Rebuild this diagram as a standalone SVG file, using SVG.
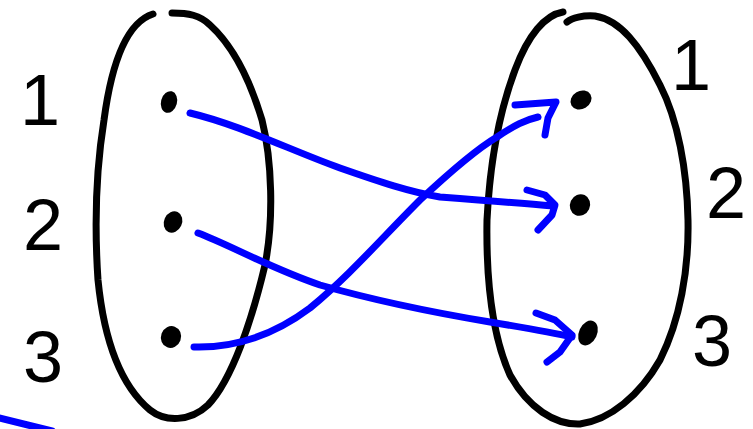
<svg xmlns="http://www.w3.org/2000/svg" width="753" height="429" viewBox="0 0 753 429">
<style>
.set{fill:none;stroke:#000;stroke-width:7;stroke-linecap:round;stroke-linejoin:round}
.dot{fill:#000}
.lbl{font-family:"Liberation Sans",Arial,sans-serif;font-size:72px;fill:#000;text-anchor:middle}
.edge{fill:none;stroke:#0000ff;stroke-width:7;stroke-linecap:round;stroke-linejoin:round}
</style>
<rect width="753" height="429" fill="#fff"/>
<g id="setA">
<path class="set" d="M153,14 C128,22 112,60 104,120 C96,170 94,220 98,280 C104,340 120,385 150,410 C165,422 190,422 208,405 C232,380 252,320 265,265 C274,220 272,160 262,120 C250,80 232,45 210,25 C200,15 188,13 172,13"/>
</g>
<g id="setB">
<path class="set" d="M563,12 C545,15 528,35 515,70 C500,110 490,160 487,220 C486,280 492,335 510,375 C528,408 555,425 580,424 C610,420 640,395 660,360 C680,320 689,270 688,220 C687,170 678,120 660,85 C640,45 620,20 595,16 C583,15 572,18 567,22"/>
</g>
<g id="a1">
<ellipse class="dot" cx="169" cy="102" rx="8" ry="11" transform="rotate(15 169 102)"/>
<text class="lbl" x="40" y="125">1</text>
</g>
<g id="a2">
<ellipse class="dot" cx="173" cy="222" rx="9" ry="11" transform="rotate(25 173 222)"/>
<text class="lbl" x="43" y="250">2</text>
</g>
<g id="a3">
<ellipse class="dot" cx="171" cy="337" rx="10" ry="11" transform="rotate(20 171 337)"/>
<text class="lbl" x="43" y="382">3</text>
</g>
<g id="b1">
<ellipse class="dot" cx="581" cy="100" rx="11" ry="9" transform="rotate(-30 581 100)"/>
<text class="lbl" x="691" y="90">1</text>
</g>
<g id="b2">
<ellipse class="dot" cx="580" cy="205" rx="10" ry="11" transform="rotate(25 580 205)"/>
<text class="lbl" x="726" y="218">2</text>
</g>
<g id="b3">
<ellipse class="dot" cx="588" cy="333" rx="9" ry="13" transform="rotate(25 588 333)"/>
<text class="lbl" x="712" y="366">3</text>
</g>
<g id="connectors">
<path class="edge" d="M190,113 C240,125 290,150 340,168 C380,182 410,192 440,197 C480,200 520,203 553,206"/>
<path class="edge" d="M527,190 L545,195 L555,205 L552,215 L538,230"/>
<path class="edge" d="M198,233 C230,245 270,268 320,285 C380,302 430,312 490,322 C520,327 550,332 572,337"/>
<path class="edge" d="M536,313 L555,320 L572,335 L560,352 L547,362"/>
<path class="edge" d="M194,347 C230,348 270,338 310,308 C350,275 380,240 420,200 C450,172 475,150 497,137 C515,125 525,120 538,117"/>
<path class="edge" d="M515,105 L556,102 L548,118 L545,135"/>
<path class="edge" d="M-5,417 L52,431"/>
</g>
</svg>
